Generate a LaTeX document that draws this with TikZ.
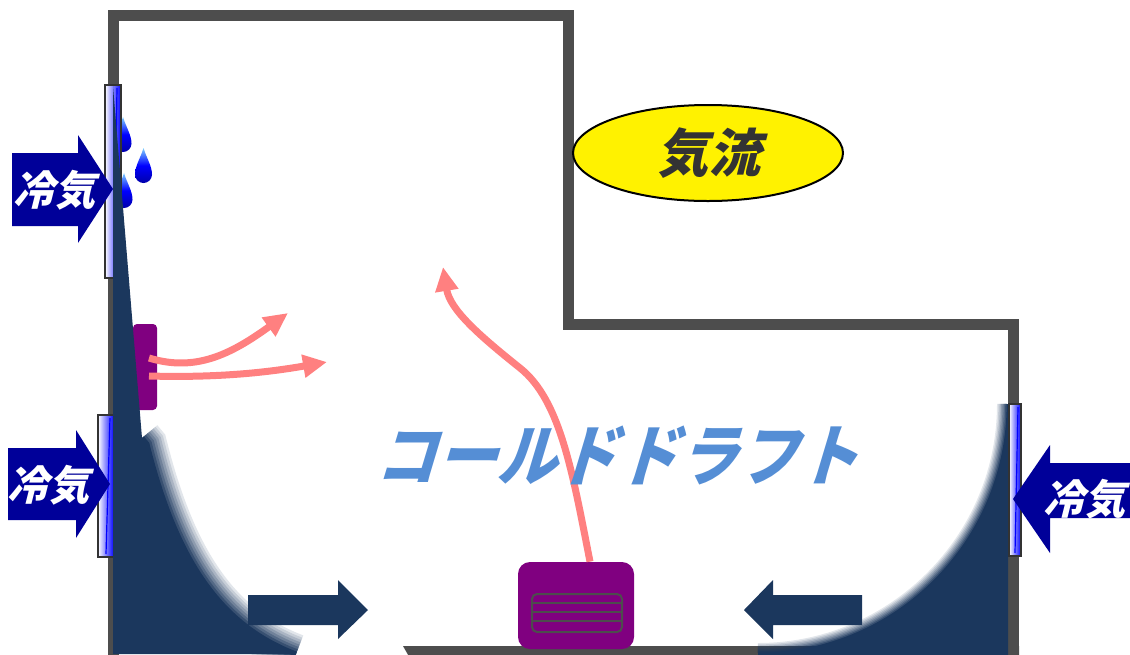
\documentclass[tikz,border=0pt]{standalone}
\usepackage{fontspec}
\newfontfamily\jpfont{Noto Sans CJK JP}[FakeSlant=0.25]
\newfontfamily\jpdraft{Noto Sans CJK JP}[FakeSlant=0.3, FakeStretch=0.9]
\usetikzlibrary{arrows.meta,shapes.geometric}

\definecolor{wallgray}{HTML}{4D4D4D}
\definecolor{coldblue}{HTML}{000099}
\definecolor{draftnavy}{HTML}{1B375D}
\definecolor{heaterpurple}{HTML}{800080}
\definecolor{warmpink}{HTML}{FF8080}
\definecolor{draftblue}{HTML}{558ED5}
\definecolor{labelgray}{HTML}{333333}
\definecolor{dropdark}{HTML}{0000AA}
\definecolor{droplight}{HTML}{7FD0FF}

\tikzset{
  wall/.style={draw=wallgray, line width=5.5pt, line join=miter},
  pane/.style={draw=labelgray, line width=0.75pt, left color=white, right color=blue},
  coldarrow/.style={fill=coldblue},
  floorarrow/.style={fill=draftnavy},
  heater/.style={fill=heaterpurple},
  warmflow/.style={draw=warmpink, line width=3.5pt, -{Triangle[length=12pt,width=11pt]}},
  droplet/.style={top color=droplight, bottom color=dropdark, middle color=blue},
  coldlabel/.style={text=white, font={\jpfont\bfseries\fontsize{20.5pt}{22pt}\selectfont}},
}

% soft edge: nested strokes whose opacities add up to a linear fade
\newcommand{\softedge}[2]{%
  \foreach \k in {1,...,8}
    \draw[draftnavy, opacity={1/(9-\k)}, line width={#1*(9-\k)/8}] #2;}

\begin{document}
\begin{tikzpicture}[x=0.5pt,y=-0.5pt]
\useasboundingbox (0,0) rectangle (1130,654);

% room walls
\draw[wall] (113,660) -- (113,15) -- (568,15) -- (568,324) -- (1013,324) -- (1013,660);
\fill[wallgray] (403,646) -- (1019,646) -- (1019,660) -- (411,660) -- cycle;

% condensation droplets on the upper window
\newcommand{\droppath}[3]{(#1,#2) .. controls (#1+3,#2+10) and (#1+8.5,#3-17) .. (#1+8.5,#3-8.5)
  arc[start angle=0,end angle=180,radius=8.5] .. controls (#1-8.5,#3-17) and (#1-3,#2+10) .. (#1,#2) -- cycle}
\shade[droplet] \droppath{123}{117}{152};
\shade[droplet] \droppath{124}{173}{208};
\shade[droplet] \droppath{143.5}{148}{183};

% windows on the left wall
\shade[pane] (105,85) rectangle (121,278);
\draw[blue, line width=0.6pt] (117,88) -- (114,275);
\shade[pane] (98,415) rectangle (114,557);
\draw[blue, line width=0.6pt] (110,418) -- (106,554);

% wall heater on the left
\fill[heater, rounded corners=2pt] (133,324) rectangle (157,410);

% cold draft sliding down the left wall
\fill[draftnavy] (113,86) -- (142,438) -- (147,444) .. controls (176,560) and (220,625) .. (296,654) -- (113,654) -- cycle;
\softedge{20pt}{(142,438) -- (147,444) .. controls (176,560) and (220,625) .. (296,654)}

% cold draft sliding down the right wall
\fill[draftnavy] (1008,404) arc[start angle=0,end angle=90,radius=250] -- (1008,660) -- cycle;
\softedge{11pt}{(1008,404) arc[start angle=0,end angle=90,radius=250]}

% window on the right wall
\shade[pane] (1009,404) rectangle (1021,556);
\draw[blue, line width=0.6pt] (1018,407) -- (1015,553);

% incoming cold air
\fill[coldarrow] (12,153) -- (78,153) -- (78,135) -- (113,189) -- (78,243) -- (78,226) -- (12,226) -- cycle;
\node[coldlabel] (coldA) at (54,190) {冷気};
\fill[coldarrow] (8,448) -- (76,448) -- (76,430) -- (110,484) -- (76,538) -- (76,520) -- (8,520) -- cycle;
\node[coldlabel] (coldB) at (49,485) {冷気};
\fill[coldarrow] (1140,463) -- (1050,463) -- (1050,445) -- (1013,499) -- (1050,553) -- (1050,518) -- (1140,518) -- cycle;
\node[coldlabel, inner sep=0pt] (coldC) at (1084,499) {冷気};

% cold air moving along the floor
\fill[floorarrow] (248,595) -- (338,595) -- (338,580) -- (368,610) -- (338,639) -- (338,625) -- (248,625) -- cycle;
\fill[floorarrow] (862,595) -- (773,595) -- (773,580) -- (744,610) -- (773,639) -- (773,625) -- (862,625) -- cycle;

% floor heater with its grille
\node[heater, rounded corners=6pt, minimum width=58pt, minimum height=43.5pt, inner sep=0pt] (floorheater) at (576,605.5) {};
\draw[wallgray, line width=1pt, rounded corners=2.5pt] (532,594) rectangle (622,632);
\foreach \y in {603,612,621}
  \draw[wallgray, line width=1pt] (532,\y) -- (622,\y);

% warm air rising
\coordinate (wallheatA) at (149,358);
\coordinate (wallheatB) at (149,376);
\coordinate (warmA) at (288,313);
\coordinate (warmB) at (327,362);
\coordinate (warmC) at (443,267);
\draw[warmflow] (wallheatA) .. controls (195,372) and (230,355) .. (warmA);
\draw[warmflow] (wallheatB) .. controls (220,378) and (270,372) .. (warmB);
\draw[warmflow] (floorheater.north -| 590,0) .. controls (572,470) and (560,400) .. (520,368)
  .. controls (480,336) and (450,310) .. (warmC);

% labels
\node[ellipse, draw=black, line width=1pt, fill=yellow, minimum width=135pt, minimum height=48pt, inner sep=0pt,
  text=labelgray, font={\jpfont\bfseries\fontsize{26pt}{28pt}\selectfont}] (airflow) at (708,153) {気流};
\node[text=draftblue, font={\jpdraft\bfseries\fontsize{33.5pt}{34pt}\selectfont}] (draftlabel) at (617,455) {コールドドラフト};
\end{tikzpicture}
\end{document}
